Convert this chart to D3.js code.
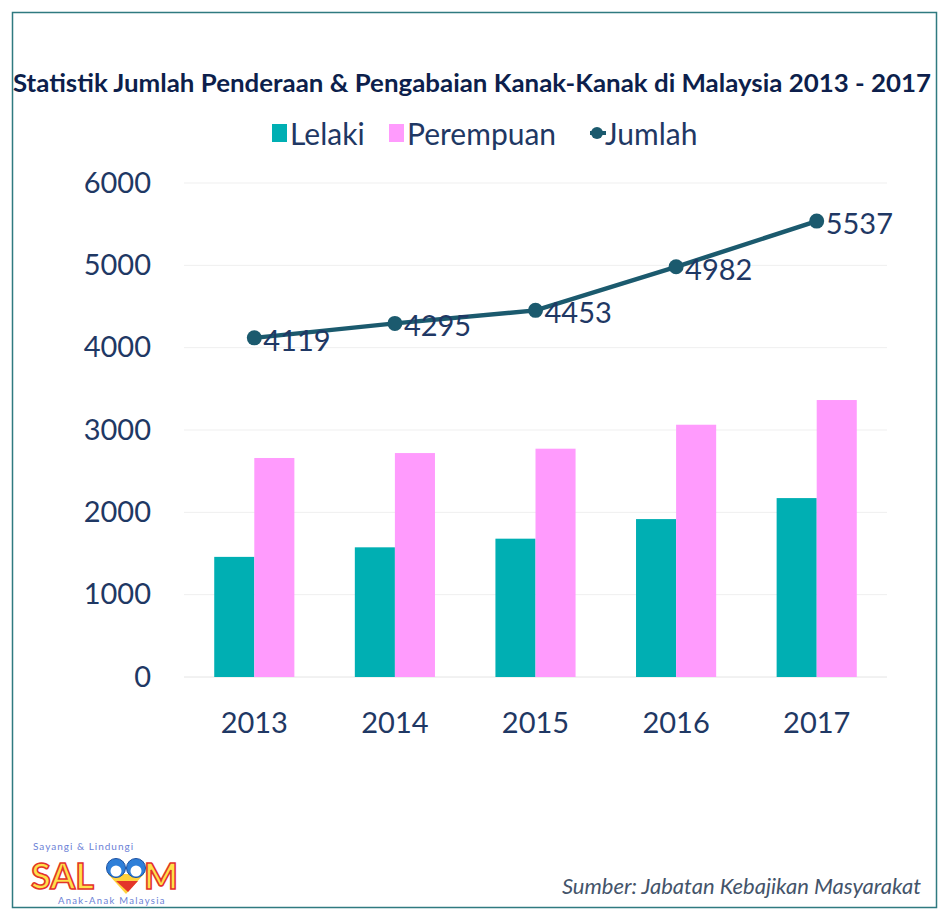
<!DOCTYPE html>
<html>
<head>
<meta charset="utf-8">
<script src="https://cdn.jsdelivr.net/npm/d3@7"></script>
<style>
  body { margin: 0; background: #fff; }
  text { font-family: Lato, "Noto Sans", sans-serif; }
</style>
</head>
<body>
<script>
// data
var years = ["2013", "2014", "2015", "2016", "2017"];
var lelaki = [1459, 1575, 1680, 1918, 2173];
var perempuan = [2660, 2720, 2773, 3064, 3364];
var jumlah = [4119, 4295, 4453, 4982, 5537];
var yTicks = [0, 1000, 2000, 3000, 4000, 5000, 6000];

var navy = "#1f3864";
var lineColor = "#1b5a6e";

var svg = d3.select("body").append("svg")
    .attr("width", 949)
    .attr("height", 917);

// frame
svg.append("rect")
    .attr("x", 12.5).attr("y", 12.5)
    .attr("width", 924).attr("height", 895)
    .attr("fill", "none")
    .attr("stroke", "#2f7a80")
    .attr("stroke-width", 1.5);

// title
svg.append("text")
    .attr("x", 472).attr("y", 92)
    .attr("text-anchor", "middle")
    .attr("textLength", 918)
    .attr("lengthAdjust", "spacingAndGlyphs")
    .style("font-size", "25px")
    .style("font-weight", "bold")
    .attr("fill", "#0d1f4c")
    .text("Statistik Jumlah Penderaan & Pengabaian Kanak-Kanak di Malaysia 2013 - 2017");

// scales
var x = d3.scaleBand().domain(years).range([184, 887]);
var y = d3.scaleLinear().domain([0, 6000]).range([677, 183]);
var barW = x.bandwidth() * 0.285;

// gridlines
svg.append("g").selectAll("line")
    .data(yTicks)
    .enter().append("line")
    .attr("x1", 184).attr("x2", 887)
    .attr("y1", function(d) {return y(d)})
    .attr("y2", function(d) {return y(d)})
    .attr("stroke", function(d) {return d === 0 ? "#e4e4e4" : "#efefef"})
    .attr("stroke-width", 1);

// y axis labels
var yAxis = svg.append("g")
    .attr("transform", "translate(151,0)")
    .call(d3.axisLeft(y).tickValues(yTicks).tickSize(0).tickPadding(0).tickFormat(d3.format("d")));
yAxis.select(".domain").remove();
yAxis.selectAll("text")
    .attr("fill", navy)
    .style("font-size", "29px")
    .style("font-family", "Lato, sans-serif");

// x axis labels
var xAxis = svg.append("g")
    .attr("transform", "translate(0,705)")
    .call(d3.axisBottom(x).tickSize(0).tickPadding(0));
xAxis.select(".domain").remove();
xAxis.selectAll("text")
    .attr("fill", navy)
    .attr("dy", "0.95em")
    .style("font-size", "29px")
    .style("font-family", "Lato, sans-serif");

// bars
svg.selectAll("rect.bar1")
    .data(lelaki)
    .enter().append("rect")
    .attr("class", "bar1")
    .attr("x", function(d, i) {return x(years[i]) + x.bandwidth() / 2 - barW})
    .attr("y", function(d) {return y(d)})
    .attr("width", barW)
    .attr("height", function(d) {return y(0) - y(d)})
    .attr("fill", "#00afb3");

svg.selectAll("rect.bar2")
    .data(perempuan)
    .enter().append("rect")
    .attr("class", "bar2")
    .attr("x", function(d, i) {return x(years[i]) + x.bandwidth() / 2})
    .attr("y", function(d) {return y(d)})
    .attr("width", barW)
    .attr("height", function(d) {return y(0) - y(d)})
    .attr("fill", "#ff9bfd");

// total line
var line = d3.line()
    .x(function(d, i) {return x(years[i]) + x.bandwidth() / 2})
    .y(function(d) {return y(d)});

svg.append("path")
    .datum(jumlah)
    .attr("d", line)
    .attr("fill", "none")
    .attr("stroke", lineColor)
    .attr("stroke-width", 4.5);

svg.selectAll("circle.pt")
    .data(jumlah)
    .enter().append("circle")
    .attr("class", "pt")
    .attr("cx", function(d, i) {return x(years[i]) + x.bandwidth() / 2})
    .attr("cy", function(d) {return y(d)})
    .attr("r", 7.5)
    .attr("fill", lineColor);

svg.selectAll("text.lbl")
    .data(jumlah)
    .enter().append("text")
    .attr("class", "lbl")
    .attr("x", function(d, i) {return x(years[i]) + x.bandwidth() / 2 + 9})
    .attr("y", function(d) {return y(d) + 13})
    .attr("fill", navy)
    .style("font-size", "29px")
    .text(function(d) {return d});

// legend
var legend = svg.append("g");
legend.append("rect").attr("x", 272).attr("y", 124).attr("width", 15).attr("height", 18).attr("fill", "#00afb3");
legend.append("text").attr("x", 290).attr("y", 145).attr("fill", navy).style("font-size", "30px").text("Lelaki");
legend.append("rect").attr("x", 389).attr("y", 124).attr("width", 15).attr("height", 18).attr("fill", "#ff9bfd");
legend.append("text").attr("x", 407).attr("y", 145).attr("fill", navy).style("font-size", "30px").text("Perempuan");
legend.append("line").attr("x1", 590).attr("x2", 606).attr("y1", 133).attr("y2", 133).attr("stroke", lineColor).attr("stroke-width", 4);
legend.append("circle").attr("cx", 597).attr("cy", 133).attr("r", 6).attr("fill", lineColor);
legend.append("text").attr("x", 605).attr("y", 145).attr("fill", navy).style("font-size", "30px").text("Jumlah");

// source
svg.append("text")
    .attr("x", 921).attr("y", 894)
    .attr("text-anchor", "end")
    .attr("fill", "#44546a")
    .style("font-size", "22px")
    .style("font-style", "italic")
    .text("Sumber: Jabatan Kebajikan Masyarakat");

// logo
var logo = svg.append("g");
logo.append("text").attr("x", 33).attr("y", 850).attr("fill", "#6b7fd6")
    .style("font-size", "10px").style("letter-spacing", "1px").text("Sayangi & Lindungi");
logo.append("text").attr("x", 31).attr("y", 889).attr("fill", "#ffe14a")
    .attr("stroke", "#e3342a").attr("stroke-width", 1.6)
    .style("font-size", "36px").style("font-weight", "bold").text("SAL");
logo.append("text").attr("x", 144).attr("y", 889).attr("fill", "#ffe14a")
    .attr("stroke", "#e3342a").attr("stroke-width", 1.6)
    .style("font-size", "36px").style("font-weight", "bold").text("M");
logo.append("path").attr("d", "M108,874 L144,874 L126,894 Z").attr("fill", "#ffd23c");
logo.append("path").attr("d", "M116,881 L138,881 L128,892 Z").attr("fill", "#e3342a");
logo.append("circle").attr("cx", 116).attr("cy", 868).attr("r", 9.5).attr("fill", "#2f7fd8").attr("stroke", "#1b4fa0");
logo.append("circle").attr("cx", 136).attr("cy", 868).attr("r", 9.5).attr("fill", "#2f7fd8").attr("stroke", "#1b4fa0");
logo.append("circle").attr("cx", 116).attr("cy", 871).attr("r", 5.5).attr("fill", "#fff");
logo.append("circle").attr("cx", 136).attr("cy", 871).attr("r", 5.5).attr("fill", "#fff");
logo.append("text").attr("x", 58).attr("y", 904).attr("fill", "#6b7fd6")
    .style("font-size", "9.5px").style("letter-spacing", "1.3px").text("Anak-Anak Malaysia");
</script>
</body>
</html>
